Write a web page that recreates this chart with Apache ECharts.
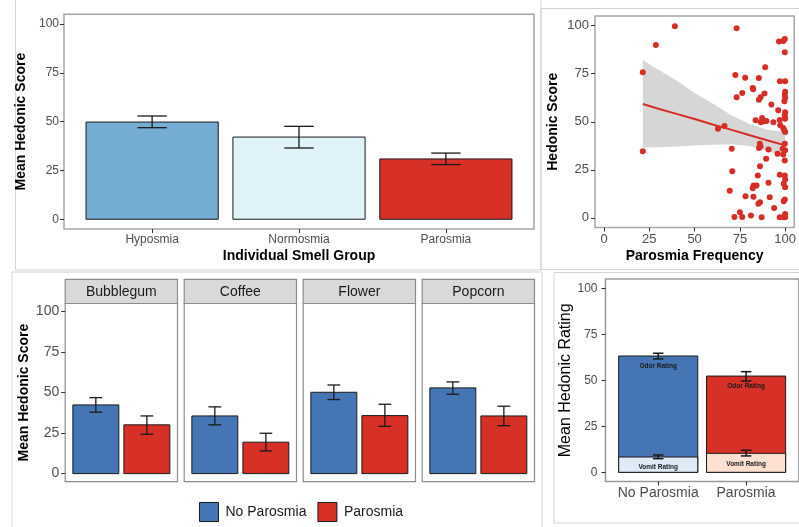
<!DOCTYPE html>
<html><head><meta charset="utf-8">
<script src="https://cdn.jsdelivr.net/npm/echarts@6/dist/echarts.min.js"></script>
<style>html,body{margin:0;padding:0;background:#fff}#c{width:799px;height:527px}</style>
</head><body><div id="c"></div>
<script>
// ---------------- data ----------------
const groupCats = ['Hyposmia', 'Normosmia', 'Parosmia'];
const groupMeans = [49.8, 42.1, 30.9];
const groupLow = [46.9, 36.5, 28.0];
const groupHigh = [52.9, 47.6, 33.9];

const freqX = [21.4, 28.6, 39.1, 21.4, 62.9, 66.5, 73.2, 96.6, 99.0, 99.8, 99.8, 89.0, 72.5, 77.9, 85.5, 97.1, 100, 82.1, 82.3, 76.3,
  73.2, 88.6, 86.4, 85.5, 100, 99.8, 100, 99.6, 92.4, 96.2, 100, 99.8, 100, 83.7, 87.3, 86.6, 88.4, 89.7, 93.5, 97.0,
  97.3, 98.9, 99.5, 100, 86.0, 85.6, 86.4, 90.8, 95.8, 98.6, 99.8, 100, 98.9, 99.8, 70.5, 89.5, 86.1, 70.8, 84.9, 97.0,
  99.8, 100, 99.2, 100, 90.8, 82.6, 82.1, 84.2, 69.4, 78.1, 82.5, 86.1, 85.2, 91.5, 99.8, 99.2, 93.9, 75.0, 76.3, 72.0,
  81.1, 87.0, 97.0, 99.0, 100, 100];
const freqY = [75.7, 89.9, 99.7, 34.6, 46.4, 47.8, 98.6, 91.7, 92.0, 93.0, 86.1, 78.3, 74.3, 72.9, 72.7, 71.1, 71.1, 67.6, 66.9, 64.9,
  62.8, 64.7, 62.8, 61.4, 65.6, 63.9, 62.5, 60.7, 59.0, 56.0, 55.0, 53.3, 51.6, 50.8, 51.9, 49.8, 50.2, 50.4, 49.8, 50.9,
  48.2, 46.8, 45.6, 44.7, 38.6, 36.3, 37.2, 35.6, 33.4, 35.9, 38.5, 35.2, 33.0, 29.9, 36.0, 30.8, 26.9, 24.2, 22.1, 22.5,
  22.1, 20.0, 17.7, 15.9, 18.3, 16.8, 15.4, 16.8, 14.1, 11.3, 11.0, 8.1, 7.3, 10.7, 9.5, 8.7, 5.2, 2.9, 0.4, 0.4,
  1.2, 0.3, 0.3, 0.3, 2.0, 0.3];
const fitX = [21.4, 30, 40, 50, 60, 70, 80, 90, 100];
const fitY = [59.2, 56.8, 54.1, 51.4, 48.6, 45.9, 43.1, 40.4, 37.7];
const fitLow = [36.5, 36.8, 37.1, 37.6, 38.0, 38.3, 37.5, 35.0, 31.5];
const fitHigh = [82.0, 77.0, 71.5, 65.0, 59.5, 53.5, 49.0, 46.0, 44.5];

const odors = ['Bubblegum', 'Coffee', 'Flower', 'Popcorn'];
const noParMeans = [42.4, 35.6, 50.2, 52.9];
const noParLow = [37.9, 30.1, 45.7, 49.0];
const noParHigh = [46.9, 41.2, 54.7, 56.6];
const parMeans = [30.1, 19.4, 35.8, 35.6];
const parLow = [24.3, 14.0, 29.2, 29.6];
const parHigh = [35.6, 24.9, 42.8, 41.6];

const ratingGroups = ['No Parosmia', 'Parosmia'];
const odorRating = [63.2, 52.3];
const odorLow = [61.6, 49.6];
const odorHigh = [64.7, 54.7];
const vomitRating = [8.3, 10.3];
const vomitLow = [7.4, 8.9];
const vomitHigh = [9.4, 12.0];

const hedonicTicks = [0, 25, 50, 75, 100];
const freqTicks = [0, 25, 50, 75, 100];

// ---------------- styles / layout ----------------
const F = '"Liberation Sans", Arial, Helvetica, sans-serif';
const C = {
  blueLight: '#74add1', paleBlue: '#e0f3f8', red: '#d73027', blue: '#4575b4',
  vomitBlue: '#deebf7', vomitRed: '#fde0d2', point: '#d62d26',
  tickLabel: '#4d4d4d', tick: '#333333', panelBorder: '#a6a6a6', frame: '#d3d3d3'
};
const L = {
  A: {left: 64, top: 14.3, width: 470, height: 214.7},
  B: {left: 595, top: 16, width: 201.2, height: 211.5},
  C: {lefts: [65.2, 184.2, 303.2, 422.2], top: 303.5, width: 112.3, height: 178.2, stripTop: 279.3},
  D: {left: 605.5, top: 279.1, width: 193.3, height: 202.4}
};

// ---------------- render helpers ----------------
function barRender(halfW, colors, labels) {
  return function (params, api) {
    const x = api.value(0), v = api.value(1);
    const a = api.coord([x - halfW, v]);
    const b = api.coord([x + halfW, 0]);
    const children = [{
      type: 'rect',
      shape: {x: a[0], y: a[1], width: b[0] - a[0], height: b[1] - a[1]},
      style: {fill: colors[params.dataIndex], stroke: '#1a1a1a', lineWidth: 1}
    }];
    if (labels) {
      children.push({
        type: 'text', x: (a[0] + b[0]) / 2, y: a[1] + 10.5,
        style: {text: labels, fill: '#1a1a1a', font: 'bold 6.5px ' + F, align: 'center', verticalAlign: 'middle'}
      });
    }
    return {type: 'group', children: children};
  };
}
function errRender(capHalf, lw) {
  return function (params, api) {
    const x = api.value(0), lo = api.value(1), hi = api.value(2);
    const t = api.coord([x, hi]), b = api.coord([x, lo]);
    const l1 = api.coord([x - capHalf, hi]), r1 = api.coord([x + capHalf, hi]);
    const l2 = api.coord([x - capHalf, lo]), r2 = api.coord([x + capHalf, lo]);
    const st = {stroke: '#1a1a1a', lineWidth: lw};
    return {type: 'group', children: [
      {type: 'line', shape: {x1: t[0], y1: t[1], x2: b[0], y2: b[1]}, style: st},
      {type: 'line', shape: {x1: l1[0], y1: l1[1], x2: r1[0], y2: r1[1]}, style: st},
      {type: 'line', shape: {x1: l2[0], y1: l2[1], x2: r2[0], y2: r2[1]}, style: st}
    ]};
  };
}
function hedonicY(gridIndex, show, labelSize, labelMargin, name, nameGap, nameStyle) {
  return {
    type: 'value', gridIndex: gridIndex, min: -5, max: 105, show: show,
    axisLine: {show: false, onZero: false}, splitLine: {show: false},
    axisTick: {show: true, length: 4, customValues: hedonicTicks, lineStyle: {color: C.tick, width: 1}},
    axisLabel: {customValues: hedonicTicks, color: C.tickLabel, fontSize: labelSize, fontFamily: F, margin: labelMargin},
    name: name || '', nameLocation: 'middle', nameGap: nameGap || 0,
    nameTextStyle: Object.assign({fontFamily: F, color: '#000'}, nameStyle || {})
  };
}
function catX(gridIndex, cats, labelSize, show, name, nameGap) {
  const vals = cats.map((c, i) => i + 1);
  return {
    type: 'value', gridIndex: gridIndex, min: 0.4, max: cats.length + 0.6, show: show,
    axisLine: {show: false, onZero: false}, splitLine: {show: false},
    axisTick: {show: true, length: 4, customValues: vals, lineStyle: {color: C.tick, width: 1}},
    axisLabel: {customValues: vals, color: C.tickLabel, fontSize: labelSize, fontFamily: F, margin: 5,
      formatter: v => cats[Math.round(v) - 1]},
    name: name || '', nameLocation: 'middle', nameGap: nameGap || 0,
    nameTextStyle: {fontFamily: F, color: '#000', fontWeight: 'bold', fontSize: 14}
  };
}

const grids = [], xAxes = [], yAxes = [], series = [], graphics = [];

// Frames (decorative panel outlines)
[[15.5, -10, 525.5, 280], [541, 8.5, 300, 261], [12, 272, 530, 300], [554, 272.5, 300, 250.5]].forEach(r => {
  graphics.push({type: 'rect', shape: {x: r[0], y: r[1], width: r[2], height: r[3]},
    style: {fill: 'none', stroke: C.frame, lineWidth: 1}, z: -10, silent: true});
});

// ---- Panel A ----
grids.push(Object.assign({show: true, borderColor: C.panelBorder, borderWidth: 1.5, backgroundColor: 'transparent'}, L.A));
xAxes.push(catX(0, groupCats, 12, true, 'Individual Smell Group', 20));
yAxes.push(hedonicY(0, true, 12, 5, 'Mean Hedonic Score', 28, {fontWeight: 'bold', fontSize: 14}));
series.push({type: 'custom', name: 'groupBars', xAxisIndex: 0, yAxisIndex: 0, renderItem: barRender(0.45, [C.blueLight, C.paleBlue, C.red]),
  encode: {x: 0, y: 1}, data: groupMeans.map((v, i) => [i + 1, v])});
series.push({type: 'custom', name: 'groupErr', xAxisIndex: 0, yAxisIndex: 0, renderItem: errRender(0.1, 1.3),
  encode: {x: 0, y: [1, 2]}, data: groupMeans.map((v, i) => [i + 1, groupLow[i], groupHigh[i]])});

// ---- Panel B ----
grids.push(Object.assign({show: true, borderColor: C.panelBorder, borderWidth: 1.5, backgroundColor: 'transparent'}, L.B));
xAxes.push({
  type: 'value', gridIndex: 1, min: -5, max: 105,
  axisLine: {show: false, onZero: false}, splitLine: {show: false},
  axisTick: {show: true, length: 4, customValues: freqTicks, lineStyle: {color: C.tick}},
  axisLabel: {customValues: freqTicks, color: C.tickLabel, fontSize: 13, fontFamily: F, margin: 5},
  name: 'Parosmia Frequency', nameLocation: 'middle', nameGap: 21.5,
  nameTextStyle: {fontFamily: F, color: '#000', fontWeight: 'bold', fontSize: 14}
});
yAxes.push(hedonicY(1, true, 13, 6, 'Hedonic Score', 35, {fontWeight: 'bold', fontSize: 14}));
series.push({type: 'scatter', name: 'points', xAxisIndex: 1, yAxisIndex: 1, symbolSize: 6,
  itemStyle: {color: C.point, opacity: 1}, data: freqX.map((x, i) => [x, freqY[i]])});
series.push({type: 'custom', name: 'band', xAxisIndex: 1, yAxisIndex: 1, encode: {x: 0, y: [1, 2]},
  data: fitX.map((x, i) => [x, fitLow[i], fitHigh[i]]),
  renderItem: function (params, api) {
    if (params.dataIndex !== 0) return null;
    const pts = [];
    for (let i = 0; i < fitX.length; i++) pts.push(api.coord([fitX[i], fitHigh[i]]));
    for (let i = fitX.length - 1; i >= 0; i--) pts.push(api.coord([fitX[i], fitLow[i]]));
    return {type: 'polygon', shape: {points: pts}, style: {fill: 'rgba(153,153,153,0.4)'}};
  }});
series.push({type: 'line', name: 'fit', xAxisIndex: 1, yAxisIndex: 1, symbol: 'none',
  lineStyle: {color: C.point, width: 2}, data: fitX.map((x, i) => [x, fitY[i]])});

// ---- Panel C (facets) ----
odors.forEach((od, k) => {
  const gi = grids.length;
  grids.push({show: true, borderColor: '#8c8c8c', borderWidth: 1.2, backgroundColor: 'transparent',
    left: L.C.lefts[k], top: L.C.top, width: L.C.width, height: L.C.height});
  const xa = catX(gi, ['No Parosmia', 'Parosmia'], 12, true);
  xa.axisTick.show = false; xa.axisLabel.show = false;
  xAxes.push(xa);
  yAxes.push(k === 0
    ? hedonicY(gi, true, 14, 6, 'Mean Hedonic Score', 34, {fontWeight: 'bold', fontSize: 14})
    : hedonicY(gi, false, 14, 6));
  const xi = xAxes.length - 1, yi = yAxes.length - 1;
  series.push({type: 'custom', name: 'No Parosmia', xAxisIndex: xi, yAxisIndex: yi, itemStyle: {color: C.blue},
    renderItem: barRender(0.45, [C.blue]), encode: {x: 0, y: 1}, data: [[1, noParMeans[k]]]});
  series.push({type: 'custom', name: 'Parosmia', xAxisIndex: xi, yAxisIndex: yi, itemStyle: {color: C.red},
    renderItem: barRender(0.45, [C.red]), encode: {x: 0, y: 1}, data: [[2, parMeans[k]]]});
  series.push({type: 'custom', name: 'facetErr' + k, xAxisIndex: xi, yAxisIndex: yi,
    renderItem: errRender(0.125, 1.3), encode: {x: 0, y: [1, 2]},
    data: [[1, noParLow[k], noParHigh[k]], [2, parLow[k], parHigh[k]]]});
  graphics.push({type: 'rect', shape: {x: L.C.lefts[k], y: L.C.stripTop, width: L.C.width, height: L.C.top - L.C.stripTop},
    style: {fill: '#d9d9d9', stroke: '#8c8c8c', lineWidth: 1.2}, z: 5, silent: true});
  graphics.push({type: 'text', x: L.C.lefts[k] + L.C.width / 2, y: (L.C.stripTop + L.C.top) / 2 + 0.5,
    style: {text: od, fill: '#1a1a1a', font: '14px ' + F, align: 'center', verticalAlign: 'middle'}, z: 6, silent: true});
});

// ---- Panel D ----
{
  const gi = grids.length;
  grids.push(Object.assign({show: true, borderColor: '#999999', borderWidth: 1.5, backgroundColor: 'transparent'}, L.D));
  const xa = catX(gi, ratingGroups, 14, true);
  xa.axisLabel.margin = 5;
  xAxes.push(xa);
  yAxes.push(hedonicY(gi, true, 12, 8, 'Mean Hedonic Rating', 27.5, {fontWeight: 'normal', fontSize: 16}));
  const xi = xAxes.length - 1, yi = yAxes.length - 1;
  series.push({type: 'custom', name: 'odorBars', xAxisIndex: xi, yAxisIndex: yi,
    renderItem: barRender(0.45, [C.blue, C.red], 'Odor Rating'), encode: {x: 0, y: 1},
    data: odorRating.map((v, i) => [i + 1, v])});
  series.push({type: 'custom', name: 'vomitBars', xAxisIndex: xi, yAxisIndex: yi,
    renderItem: barRender(0.45, [C.vomitBlue, C.vomitRed], 'Vomit Rating'), encode: {x: 0, y: 1},
    data: vomitRating.map((v, i) => [i + 1, v])});
  series.push({type: 'custom', name: 'odorErr', xAxisIndex: xi, yAxisIndex: yi,
    renderItem: errRender(0.06, 1.5), encode: {x: 0, y: [1, 2]},
    data: odorRating.map((v, i) => [i + 1, odorLow[i], odorHigh[i]])});
  series.push({type: 'custom', name: 'vomitErr', xAxisIndex: xi, yAxisIndex: yi,
    renderItem: errRender(0.06, 1.5), encode: {x: 0, y: [1, 2]},
    data: vomitRating.map((v, i) => [i + 1, vomitLow[i], vomitHigh[i]])});
}

const chart = echarts.init(document.getElementById('c'), null, {renderer: 'canvas'});
chart.setOption({
  animation: false,
  backgroundColor: '#ffffff',
  textStyle: {fontFamily: F},
  grid: grids,
  xAxis: xAxes,
  yAxis: yAxes,
  series: series,
  graphic: graphics,
  legend: {
    left: 199, top: 502, padding: 0, icon: 'rect', itemWidth: 19, itemHeight: 19, itemGap: 11,
    selectedMode: false,
    textStyle: {fontSize: 14, color: '#1a1a1a', fontFamily: F, padding: [0, 0, 0, 2]},
    data: [
      {name: 'No Parosmia', itemStyle: {color: C.blue, borderColor: '#1a1a1a', borderWidth: 1}},
      {name: 'Parosmia', itemStyle: {color: C.red, borderColor: '#1a1a1a', borderWidth: 1}}
    ]
  }
});
</script>
</body></html>
